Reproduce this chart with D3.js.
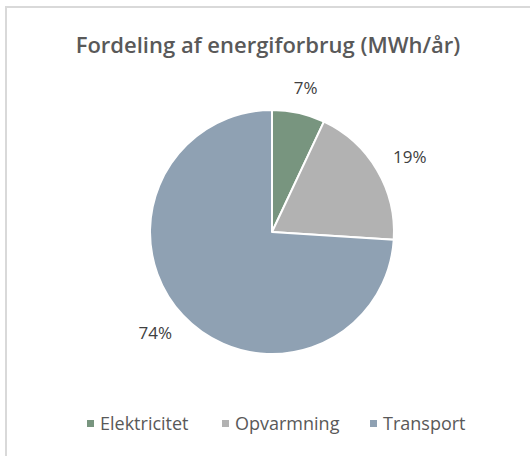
<!DOCTYPE html>
<html>
<head>
<meta charset="utf-8">
<script src="https://cdn.jsdelivr.net/npm/d3@7"></script>
<style>
  html, body { margin: 0; padding: 0; background: #fff; }
  svg { display: block; }
</style>
</head>
<body>
<svg id="chart" width="530" height="456"></svg>
<script>
const categories = ['Elektricitet', 'Opvarmning', 'Transport'];
const shares = [7, 19, 74];
const colors = ['#78957f', '#b2b2b2', '#8fa1b3'];

const svg = d3.select('#chart');
const font = '"Open Sans", "DejaVu Sans", sans-serif';

// frame
svg.append('rect')
  .attr('x', 6).attr('y', 7)
  .attr('width', 540).attr('height', 470)
  .attr('fill', '#fff')
  .attr('stroke', '#d9d9d9')
  .attr('stroke-width', 2);

svg.append('text')
  .attr('x', 268).attr('y', 53)
  .attr('text-anchor', 'middle')
  .attr('font-family', font)
  .attr('font-size', 22)
  .attr('font-weight', 600)
  .attr('fill', '#595959')
  .text('Fordeling af energiforbrug (MWh/år)');

const cx = 272, cy = 232, r = 122;
const data = categories.map((c, i) => ({ name: c, value: shares[i], color: colors[i] }));

const pie = d3.pie().value(d => d.value).sort(null);
const arc = d3.arc().innerRadius(0).outerRadius(r);

const g = svg.append('g').attr('transform', `translate(${cx},${cy})`);

g.selectAll('path')
  .data(pie(data))
  .join('path')
  .attr('d', arc)
  .attr('fill', d => d.data.color)
  .attr('stroke', '#fff')
  .attr('stroke-width', 2)
  .attr('stroke-linejoin', 'round');

// outside labels: push text box out past the rim
const labels = g.selectAll('text.lbl')
  .data(pie(data))
  .join('text')
  .attr('class', 'lbl')
  .attr('text-anchor', 'middle')
  .attr('dy', '0.35em')
  .attr('font-family', font)
  .attr('font-size', 17)
  .attr('fill', '#404040')
  .text(d => d.data.value + '%');

labels.each(function (d) {
  const a = (d.startAngle + d.endAngle) / 2;
  const w = this.getComputedTextLength() / 2;
  const h = 7;
  const rr = r + 18;
  const x = Math.sin(a) * rr + Math.sin(a) * w * 1.2;
  const y = -Math.cos(a) * rr - Math.cos(a) * h;
  d3.select(this).attr('transform', `translate(${x},${y})`);
});

// legend
const legendX = [87, 222, 370];
const legend = svg.append('g');
categories.forEach((c, i) => {
  legend.append('rect')
    .attr('x', legendX[i]).attr('y', 420)
    .attr('width', 7).attr('height', 7)
    .attr('fill', colors[i]);
  legend.append('text')
    .attr('x', legendX[i] + 13).attr('y', 424)
    .attr('dy', '0.35em')
    .attr('font-family', font)
    .attr('font-size', 18)
    .attr('fill', '#595959')
    .text(c);
});
</script>
</body>
</html>
